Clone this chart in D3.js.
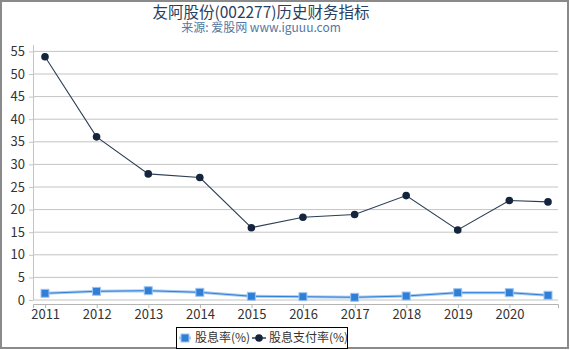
<!DOCTYPE html>
<html>
<head>
<meta charset="utf-8">
<script src="https://cdn.jsdelivr.net/npm/d3@7"></script>
<style>
  body { margin: 0; background: #fff; }
  svg { display: block; font-family: "Noto Sans CJK SC", "Noto Sans", sans-serif; }
</style>
</head>
<body>
<div id="chart"></div>
<script>
// report dates (year-end reports, last one is Q3)
var reportDates = ['2010-12-31', '2011-12-31', '2012-12-31', '2013-12-31', '2014-12-31',
  '2015-12-31', '2016-12-31', '2017-12-31', '2018-12-31', '2019-12-31', '2020-09-30']
var dividendYield = [1.48, 1.92, 2.06, 1.7, 0.82, 0.73, 0.6, 0.88, 1.62, 1.62, 1.04]
var payoutRatio = [53.8, 36.1, 27.9, 27.1, 16.0, 18.3, 18.9, 23.1, 15.5, 22.0, 21.7]
var yTicks = [0, 5, 10, 15, 20, 25, 30, 35, 40, 45, 50, 55]
var seriesNames = ['股息率(%)', '股息支付率(%)']

;(function() {
  var width = 570
  var height = 350
  var parse = d3.timeParse('%Y-%m-%d')
  var dates = reportDates.map(parse)

  var svg = d3.select('#chart').append('svg')
    .attr('width', width)
    .attr('height', height)

  svg.append('rect')
    .attr('x', 1).attr('y', 1)
    .attr('width', width - 3).attr('height', height - 3)
    .attr('fill', '#fff')
    .attr('stroke', '#8a8a8a')
    .attr('stroke-width', 2)

  svg.append('text')
    .attr('x', 261).attr('y', 17.5)
    .attr('text-anchor', 'middle')
    .attr('font-size', 15.5)
    .attr('fill', '#2a3f5f')
    .text('友阿股份(002277)历史财务指标')

  svg.append('text')
    .attr('x', 261).attr('y', 31.5)
    .attr('text-anchor', 'middle')
    .attr('font-size', 12)
    .attr('fill', '#5577a0')
    .text('来源: 爱股网 www.iguuu.com')

  var plotLeft = 33
  var plotRight = 558

  // place first and last points, then widen the domain to the plot edges
  var x = d3.scaleTime()
    .domain([dates[0], dates[dates.length - 1]])
    .range([45, 548])
  x.domain([x.invert(plotLeft), x.invert(plotRight)]).range([plotLeft, plotRight])

  var y = d3.scaleLinear()
    .domain([0, 55])
    .range([300, 51.4])

  // grid
  svg.append('g')
    .selectAll('line')
    .data(yTicks)
    .join('line')
    .attr('x1', plotLeft).attr('x2', plotRight)
    .attr('y1', function(d) { return y(d) }).attr('y2', function(d) { return y(d) })
    .attr('stroke', '#c4c4c4')
    .attr('stroke-width', 1)

  var yAxis = d3.axisLeft(y)
    .tickValues(yTicks)
    .tickSize(4)
    .tickPadding(4)

  var gy = svg.append('g')
    .attr('transform', 'translate(' + plotLeft + ',0)')
    .call(yAxis)
  gy.select('.domain').remove()
  gy.selectAll('.tick line').attr('stroke', '#c4c4c4')
  gy.selectAll('.tick text').attr('font-size', 13).attr('fill', '#333')
    .attr('font-family', '"Noto Sans CJK SC", sans-serif')
  svg.append('line')
    .attr('x1', plotLeft + 0.5).attr('x2', plotLeft + 0.5)
    .attr('y1', 45).attr('y2', 300)
    .attr('stroke', '#c4c4c4')

  var xAxis = d3.axisBottom(x)
    .ticks(d3.timeYear.every(1))
    .tickFormat(d3.timeFormat('%Y'))
    .tickSizeOuter(0)
    .tickSize(4)
    .tickPadding(2)

  var gx = svg.append('g')
    .attr('transform', 'translate(0,304)')
    .call(xAxis)
  gx.select('.domain').attr('stroke', '#b4b4b4')
  gx.selectAll('.tick line').attr('stroke', '#b4b4b4')
  gx.selectAll('.tick text').attr('font-size', 13).attr('fill', '#333')
    .attr('font-family', '"Noto Sans CJK SC", sans-serif')

  var navy = '#14253d'
  var blue = '#2f7fd9'

  var line = d3.line()
    .x(function(d, i) { return x(dates[i]) })
    .y(function(d) { return y(d) })

  // dividend yield: light halo under the line
  svg.append('path')
    .datum(dividendYield)
    .attr('d', line)
    .attr('fill', 'none')
    .attr('stroke', '#a9cbef')
    .attr('stroke-width', 3)
  svg.append('path')
    .datum(dividendYield)
    .attr('d', line)
    .attr('fill', 'none')
    .attr('stroke', blue)
    .attr('stroke-width', 1)
  svg.append('g')
    .selectAll('rect')
    .data(dividendYield)
    .join('rect')
    .attr('x', function(d, i) { return x(dates[i]) - 4 })
    .attr('y', function(d) { return y(d) - 4 })
    .attr('width', 8).attr('height', 8)
    .attr('fill', blue)
    .attr('stroke', '#9fc6ef')
    .attr('stroke-width', 1)

  // payout ratio
  svg.append('path')
    .datum(payoutRatio)
    .attr('d', line)
    .attr('fill', 'none')
    .attr('stroke', '#2c3d56')
    .attr('stroke-width', 1.1)
  svg.append('g')
    .selectAll('circle')
    .data(payoutRatio)
    .join('circle')
    .attr('cx', function(d, i) { return x(dates[i]) })
    .attr('cy', function(d) { return y(d) })
    .attr('r', 3.8)
    .attr('fill', navy)

  // legend
  var legend = svg.append('g')
  legend.append('rect')
    .attr('x', 176.5).attr('y', 327.5)
    .attr('width', 171).attr('height', 21)
    .attr('fill', '#fff')
    .attr('stroke', '#000')
    .attr('stroke-width', 1)

  legend.append('line')
    .attr('x1', 179).attr('x2', 191).attr('y1', 338).attr('y2', 338)
    .attr('stroke', '#a9cbef').attr('stroke-width', 3)
  legend.append('rect')
    .attr('x', 181).attr('y', 334).attr('width', 8).attr('height', 8)
    .attr('fill', blue).attr('stroke', '#9fc6ef')
  legend.append('text')
    .attr('x', 195).attr('y', 342)
    .attr('font-size', 12).attr('fill', '#333')
    .text(seriesNames[0])

  legend.append('line')
    .attr('x1', 252).attr('x2', 266).attr('y1', 338).attr('y2', 338)
    .attr('stroke', '#2c3d56').attr('stroke-width', 1.5)
  legend.append('circle')
    .attr('cx', 259).attr('cy', 338).attr('r', 3.8)
    .attr('fill', navy)
  legend.append('text')
    .attr('x', 269).attr('y', 342)
    .attr('font-size', 12).attr('fill', '#333')
    .text(seriesNames[1])
})()
</script>
</body>
</html>
